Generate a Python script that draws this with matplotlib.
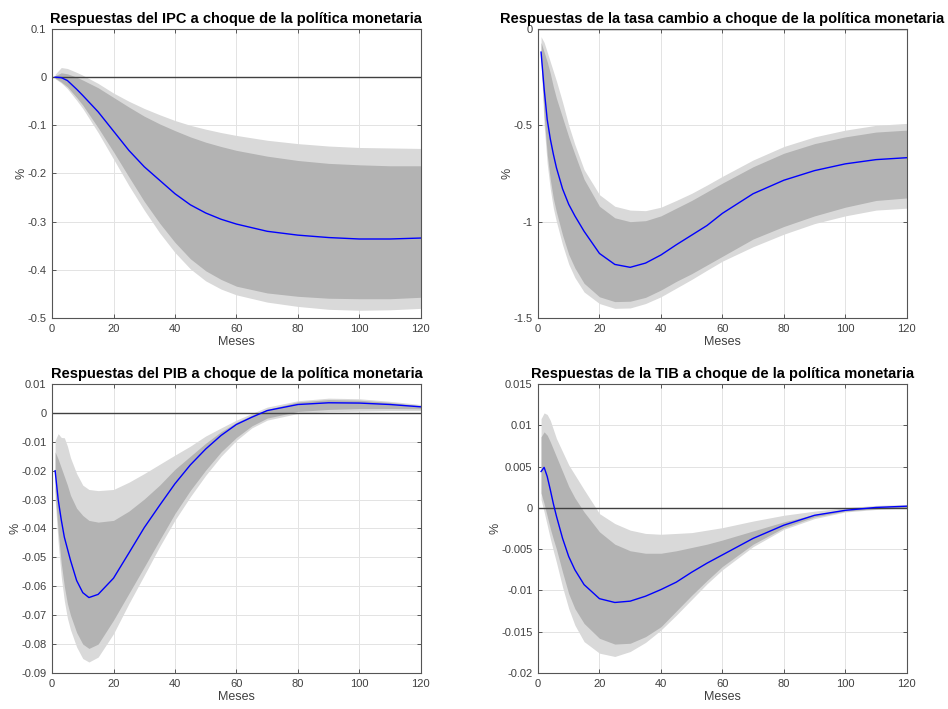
"""Respuestas impulso a choque de política monetaria — 4 paneles estilo MATLAB"""

import matplotlib
matplotlib.use("Agg")
import matplotlib.pyplot as plt
from matplotlib.ticker import FuncFormatter

plt.rcParams["font.family"] = ["Liberation Sans", "DejaVu Sans"]

# --- IPC ---
ipc_meses = [1, 3, 5, 8, 10, 15, 20, 25, 30, 35, 40, 45, 50, 55, 60, 70, 80, 90, 100, 110, 120]
ipc_med = [0, -0.001, -0.007, -0.025, -0.038, -0.072, -0.112, -0.152, -0.186, -0.214, -0.242, -0.265, -0.282, -0.295, -0.305, -0.32, -0.328, -0.333, -0.336, -0.336, -0.334]
ipc_ext_sup = [0.006, 0.02, 0.018, 0.01, 0.004, -0.013, -0.033, -0.05, -0.065, -0.078, -0.09, -0.1, -0.108, -0.115, -0.121, -0.131, -0.138, -0.143, -0.146, -0.147, -0.148]
ipc_int_sup = [0.003, 0.009, 0.007, 0.0, -0.006, -0.022, -0.042, -0.062, -0.081, -0.097, -0.111, -0.124, -0.135, -0.144, -0.152, -0.164, -0.173, -0.179, -0.182, -0.184, -0.184]
ipc_int_inf = [-0.002, -0.01, -0.02, -0.042, -0.058, -0.105, -0.155, -0.207, -0.258, -0.303, -0.343, -0.377, -0.402, -0.42, -0.434, -0.448, -0.455, -0.459, -0.46, -0.46, -0.457]
ipc_ext_inf = [-0.003, -0.012, -0.024, -0.048, -0.065, -0.115, -0.17, -0.225, -0.276, -0.323, -0.364, -0.398, -0.423, -0.44, -0.452, -0.467, -0.476, -0.482, -0.484, -0.483, -0.48]

# --- tasa de cambio ---
tc_meses = [1, 2, 3, 4, 5, 6, 8, 10, 12, 15, 20, 25, 30, 35, 40, 45, 50, 55, 60, 70, 80, 90, 100, 110, 120]
tc_med = [-0.12, -0.31, -0.47, -0.57, -0.65, -0.72, -0.83, -0.91, -0.97, -1.05, -1.165, -1.222, -1.237, -1.215, -1.173, -1.12, -1.07, -1.02, -0.957, -0.855, -0.785, -0.735, -0.7, -0.678, -0.668]
tc_ext_sup = [-0.04, -0.07, -0.12, -0.17, -0.22, -0.27, -0.38, -0.5, -0.6, -0.73, -0.86, -0.92, -0.94, -0.943, -0.925, -0.89, -0.853, -0.81, -0.765, -0.68, -0.61, -0.56, -0.525, -0.5, -0.49]
tc_int_sup = [-0.07, -0.12, -0.17, -0.23, -0.3, -0.36, -0.46, -0.56, -0.65, -0.78, -0.92, -0.98, -1.0, -0.995, -0.97, -0.93, -0.89, -0.845, -0.8, -0.715, -0.645, -0.595, -0.56, -0.535, -0.525]
tc_int_inf = [-0.15, -0.45, -0.65, -0.78, -0.88, -0.95, -1.07, -1.17, -1.24, -1.32, -1.39, -1.415, -1.413, -1.393, -1.355, -1.31, -1.27, -1.225, -1.18, -1.09, -1.025, -0.97, -0.925, -0.89, -0.877]
tc_ext_inf = [-0.17, -0.5, -0.7, -0.83, -0.93, -1.0, -1.12, -1.22, -1.29, -1.365, -1.425, -1.45, -1.448, -1.425, -1.39, -1.345, -1.3, -1.252, -1.205, -1.13, -1.065, -1.01, -0.97, -0.94, -0.93]

# --- PIB ---
pib_meses = [1, 2, 3, 4, 5, 6, 8, 10, 12, 15, 20, 25, 30, 35, 40, 45, 50, 55, 60, 65, 70, 80, 90, 100, 110, 120]
pib_med = [-0.02, -0.03, -0.037, -0.043, -0.047, -0.051, -0.058, -0.0622, -0.0639, -0.0628, -0.0572, -0.0485, -0.0397, -0.032, -0.0245, -0.018, -0.0125, -0.0078, -0.004, -0.0015, 0.0008, 0.0029, 0.0035, 0.0034, 0.0029, 0.0021]
pib_ext_sup = [-0.0095, -0.0072, -0.0085, -0.0086, -0.0115, -0.0155, -0.021, -0.025, -0.0265, -0.0269, -0.0265, -0.024, -0.021, -0.0178, -0.0146, -0.0115, -0.008, -0.0052, -0.0025, -0.0002, 0.002, 0.0042, 0.0051, 0.0049, 0.004, 0.0029]
pib_int_sup = [-0.0135, -0.016, -0.019, -0.022, -0.025, -0.0285, -0.033, -0.0355, -0.0372, -0.0378, -0.0372, -0.034, -0.0298, -0.025, -0.0195, -0.015, -0.0105, -0.0065, -0.0033, -0.0008, 0.0012, 0.0038, 0.0046, 0.0044, 0.0036, 0.0025]
pib_int_inf = [-0.027, -0.041, -0.052, -0.06, -0.066, -0.07, -0.076, -0.08, -0.0815, -0.08, -0.0717, -0.0625, -0.0533, -0.044, -0.0348, -0.0268, -0.0198, -0.0135, -0.0085, -0.0045, -0.0018, 0.0005, 0.0012, 0.0015, 0.0015, 0.0014]
pib_ext_inf = [-0.03, -0.045, -0.0567, -0.065, -0.071, -0.075, -0.081, -0.085, -0.0862, -0.0845, -0.0764, -0.066, -0.0562, -0.0463, -0.0371, -0.029, -0.0216, -0.015, -0.0095, -0.0052, -0.0025, -0.0002, 0.0004, 0.0006, 0.0008, 0.0008]

# --- TIB ---
tib_meses = [1, 2, 3, 4, 5, 6, 8, 10, 12, 15, 20, 25, 30, 35, 40, 45, 50, 55, 60, 70, 80, 90, 100, 110, 120]
tib_med = [0.0044, 0.0049, 0.0038, 0.0022, 0.0005, -0.001, -0.0037, -0.0059, -0.0075, -0.0093, -0.011, -0.01146, -0.0113, -0.0107, -0.0099, -0.009, -0.0078, -0.0067, -0.0057, -0.0037, -0.0021, -0.0009, -0.0003, 0.00005, 0.0002]
tib_ext_sup = [0.0108, 0.0115, 0.0113, 0.0106, 0.0095, 0.0084, 0.0068, 0.0052, 0.004, 0.0022, -0.0007, -0.0019, -0.0027, -0.0031, -0.0032, -0.0031, -0.003, -0.0027, -0.0024, -0.0016, -0.0009, -0.0004, 0.0, 0.0003, 0.0004]
tib_int_sup = [0.0086, 0.0092, 0.0088, 0.008, 0.0071, 0.0062, 0.0044, 0.0026, 0.0012, -0.0005, -0.0029, -0.0044, -0.0052, -0.0055, -0.0055, -0.0052, -0.0048, -0.0044, -0.0039, -0.0028, -0.0017, -0.0008, -0.0002, 0.0001, 0.0003]
tib_int_inf = [0.0018, 0.0005, -0.001, -0.0025, -0.0038, -0.005, -0.0078, -0.0104, -0.0122, -0.014, -0.0158, -0.0165, -0.0164, -0.0156, -0.0144, -0.0125, -0.0106, -0.0088, -0.0071, -0.0044, -0.0024, -0.0011, -0.0004, -0.0001, 0.00005]
tib_ext_inf = [0.001, -0.0005, -0.0021, -0.0037, -0.0052, -0.0066, -0.0096, -0.0122, -0.0142, -0.0162, -0.0176, -0.018, -0.0174, -0.0163, -0.0148, -0.013, -0.0111, -0.0092, -0.0075, -0.0047, -0.0026, -0.0013, -0.0005, -0.0002, 0.0]

titulos = [
    "Respuestas del IPC a choque de la política monetaria",
    "Respuestas de la tasa cambio a choque de la política monetaria",
    "Respuestas del PIB a choque de la política monetaria",
    "Respuestas de la TIB a choque de la política monetaria",
]
ylims = [(-0.5, 0.1), (-1.5, 0), (-0.09, 0.01), (-0.02, 0.015)]
ypasos = [0.1, 0.5, 0.01, 0.005]

paneles = [
    (ipc_meses, ipc_med, ipc_ext_sup, ipc_int_sup, ipc_int_inf, ipc_ext_inf),
    (tc_meses, tc_med, tc_ext_sup, tc_int_sup, tc_int_inf, tc_ext_inf),
    (pib_meses, pib_med, pib_ext_sup, pib_int_sup, pib_int_inf, pib_ext_inf),
    (tib_meses, tib_med, tib_ext_sup, tib_int_sup, tib_int_inf, tib_ext_inf),
]

# posiciones de los ejes (fracción de figura)
posiciones = [
    [0.0549, 0.5515, 0.389, 0.4076],
    [0.5675, 0.5515, 0.389, 0.4076],
    [0.0549, 0.0508, 0.389, 0.4076],
    [0.5675, 0.0508, 0.389, 0.4076],
]

fig = plt.figure(figsize=(9.48, 7.09), dpi=100)

for i, (meses, med, es, isup, iinf, ei) in enumerate(paneles):
    ax = fig.add_axes(posiciones[i])
    ax.fill_between(meses, ei, es, color="#d9d9d9", lw=0)
    ax.fill_between(meses, iinf, isup, color="#b3b3b3", lw=0)
    ax.axhline(0, color="#404040", lw=1.0)
    ax.plot(meses, med, color="blue", lw=1.0)

    lo, hi = ylims[i]
    n = int(round((hi - lo) / ypasos[i]))
    ax.set_yticks([lo + k * ypasos[i] for k in range(n + 1)])
    ax.yaxis.set_major_formatter(FuncFormatter(lambda v, p: f"{round(v, 4):g}"))
    ax.set_ylim(lo, hi)
    ax.set_xlim(0, 120)
    ax.set_xticks(range(0, 121, 20))

    ax.grid(True, color="#e3e3e3", lw=0.7)
    ax.set_axisbelow(True)
    ax.tick_params(direction="in", length=3, width=0.6, top=True, right=True,
                   labelsize=8, colors="#404040", pad=4)
    for s in ax.spines.values():
        s.set_color("#555555")
        s.set_linewidth(0.8)

    ax.set_title(titulos[i], fontsize=10.5, fontweight="bold", pad=4)
    ax.set_xlabel("Meses", fontsize=9, color="#404040", labelpad=2)
    ax.set_ylabel("%", fontsize=9, color="#404040", labelpad=0)

fig.savefig("out.png", dpi=100)
